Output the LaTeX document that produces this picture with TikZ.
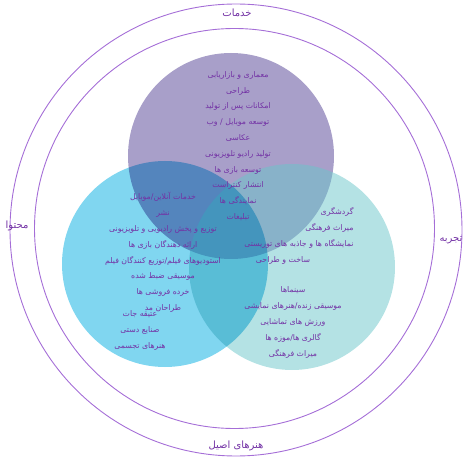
\documentclass[tikz,border=0pt]{standalone}
\usepackage{fontspec}
\usepackage{tikz}
\TeXXeTstate=1
\newfontfamily\farsifont[Script=Arabic]{DejaVu Sans}
\newcommand{\rl}[1]{\beginR #1\endR}
\definecolor{ringline}{RGB}{165,110,215}
\definecolor{labeltext}{RGB}{115,50,165}
\definecolor{servicefill}{RGB}{168,159,201}
\definecolor{contentfill}{RGB}{128,214,240}
\definecolor{experiencefill}{RGB}{105,197,201}

\begin{document}
\begin{tikzpicture}
  % pixel grid of the original: x to the right, y downwards
  \begin{scope}[x=1pt,y=-1pt,
    ring/.style={circle,draw=ringline,line width=.9pt,inner sep=0pt},
    venn/.style={circle,inner sep=0pt,minimum size=206pt},
    every node/.style={font=\farsifont\fontsize{7.8}{15.8}\selectfont,text=labeltext},
    ringlabel/.style={font=\farsifont\fontsize{10}{12}\selectfont}]
    \useasboundingbox (0,0) rectangle (466,457);
    \node[ring,minimum size=452pt] (outer) at (236,230) {};
    \node[ring,minimum size=400pt] (inner) at (234.5,228.5) {};

    \node[venn,fill=servicefill] (services) at (231,156) {};
    \node[venn,fill=experiencefill,fill opacity=.5] (experience) at (292,267) {};
    \begin{scope}[blend mode=multiply]
      \node[venn,fill=contentfill] (content) at (165,264) {};
    \end{scope}

    % labels between the two rings
    \node[ringlabel] (L_services) at (237,13) {\rl{خدمات}};
    \node[ringlabel] (L_content) at (17,226) {\rl{محتوا}};
    \node[ringlabel] (L_experience) at (451,240) {\rl{تجربه}};
    \node[ringlabel] (L_originals) at (236,446) {\rl{هنرهای اصیل}};

    \node[align=center] (T_services) at (238,146) {\rl{معماری و بازاریابی}\\\rl{طراحی}\\
      \rl{امکانات پس از تولید}\\\rl{توسعه موبایل / وب}\\\rl{عکاسی}\\
      \rl{تولید رادیو تلویزیونی}\\\rl{توسعه بازی ها}\\\rl{انتشار کنتراست}\\
      \rl{نمایندگی ها}\\\rl{تبلیغات}};

    \node[align=center] (T_content) at (163,252.5) {\rl{خدمات آنلاین/موبایل}\\\rl{نشر}\\
      \rl{توزیع و پخش رادیویی و تلویزیونی}\\\rl{ارائه دهندگان بازی ها}\\
      \rl{استودیوهای فیلم/توزیع کنندگان فیلم}\\\rl{موسیقی ضبط شده}\\
      \rl{خرده فروشی ها}\\\rl{طراحان مد}};
    \node[align=center] (T_originals) at (140,330.5) {\rl{عتیقه جات}\\\rl{صنایع دستی}\\
      \rl{هنرهای تجسمی}};

    \node[align=right,anchor=east] (T_experience) at (357,228) {\rl{گردشگری}\\
      \rl{میراث فرهنگی}\\\rl{نمایشگاه ها و جاذبه های توریستی}};
    \node (T_making) at (283,260) {\rl{ساخت و طراحی}};
    \node[align=center] (T_live) at (293,322.5) {\rl{سینماها}\\\rl{موسیقی زنده/هنرهای نمایشی}\\
      \rl{ورزش های تماشایی}\\\rl{گالری ها/موزه ها}\\\rl{میراث فرهنگی}};
  \end{scope}
\end{tikzpicture}
\end{document}
